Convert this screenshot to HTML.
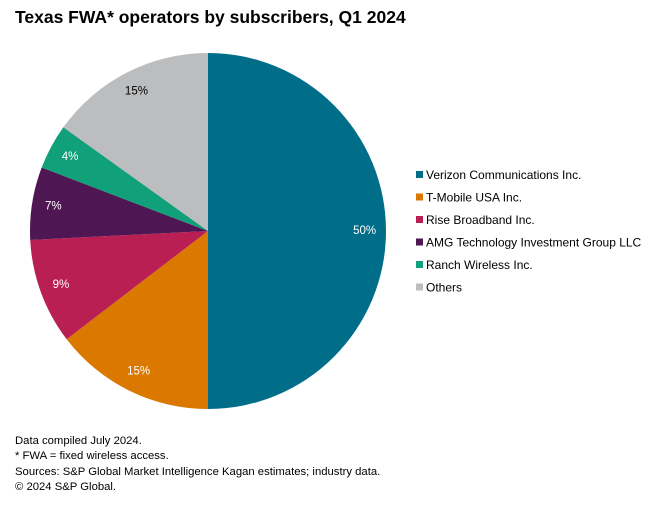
<!DOCTYPE html>
<html><head><meta charset="utf-8"><style>
body{margin:0;width:660px;height:505px;background:#fff;font-family:"Liberation Sans",sans-serif;overflow:hidden;position:relative}
.t{position:absolute;left:15px;top:7px;font-size:17.5px;font-weight:bold;color:#000}
.f{position:absolute;left:15px;top:434px;font-size:11.3px;line-height:15.3px;color:#000}
</style></head><body>
<div class="t">Texas FWA* operators by subscribers, Q1 2024</div>
<svg id="c" width="660" height="505" style="position:absolute;left:0;top:0"></svg>
<div class="f">Data compiled July 2024.<br>* FWA = fixed wireless access.<br>Sources: S&amp;P Global Market Intelligence Kagan estimates; industry data.<br>© 2024 S&amp;P Global.</div>
<script>
const categories=["Verizon Communications Inc.","T-Mobile USA Inc.","Rise Broadband Inc.","AMG Technology Investment Group LLC","Ranch Wireless Inc.","Others"];
const values=[50,14.6,9.6,6.6,4.1,15.1];
const labels=["50%","15%","9%","7%","4%","15%"];
const colors=["#006d89","#db7800","#b91f52","#4f1654","#10a07a","#bcbdbf"];
const svg=document.getElementById('c');const NS='http://www.w3.org/2000/svg';
const cx=208,cy=231,r=178;
const total=values.reduce((a,b)=>a+b,0);
function pt(frac,rr){const a=frac*2*Math.PI;return [cx+rr*Math.sin(a),cy-rr*Math.cos(a)];}
let cum=0;
values.forEach((v,i)=>{
 const s=cum/total,e=(cum+v)/total;cum+=v;
 const [x1,y1]=pt(s,r),[x2,y2]=pt(e,r);
 const p=document.createElementNS(NS,'path');
 p.setAttribute('d',`M${cx},${cy}L${x1},${y1}A${r},${r} 0 ${e-s>0.5?1:0} 1 ${x2},${y2}Z`);
 p.setAttribute('fill',colors[i]);
 
 
 svg.appendChild(p);
 const [lx,ly]=pt((s+e)/2,r*0.88);
 const t=document.createElementNS(NS,'text');
 t.setAttribute('x',lx);t.setAttribute('y',ly+3);t.setAttribute('text-anchor','middle');
 t.setAttribute('font-size','11.5');t.setAttribute('fill',i==5?'#000':'#fff');
 t.textContent=labels[i];
 
 
 svg.appendChild(t);
 const ly2=175+i*22.5;
 const sq=document.createElementNS(NS,'rect');
 sq.setAttribute('x',416);sq.setAttribute('y',ly2-4);sq.setAttribute('width',7);sq.setAttribute('height',7);sq.setAttribute('fill',colors[i]);
 
 
 svg.appendChild(sq);
 const lt=document.createElementNS(NS,'text');
 lt.setAttribute('x',426);lt.setAttribute('y',ly2+4);lt.setAttribute('font-size','12');lt.setAttribute('fill','#000');
 lt.textContent=categories[i];
 
 
 svg.appendChild(lt);
});
</script>
</body></html>
